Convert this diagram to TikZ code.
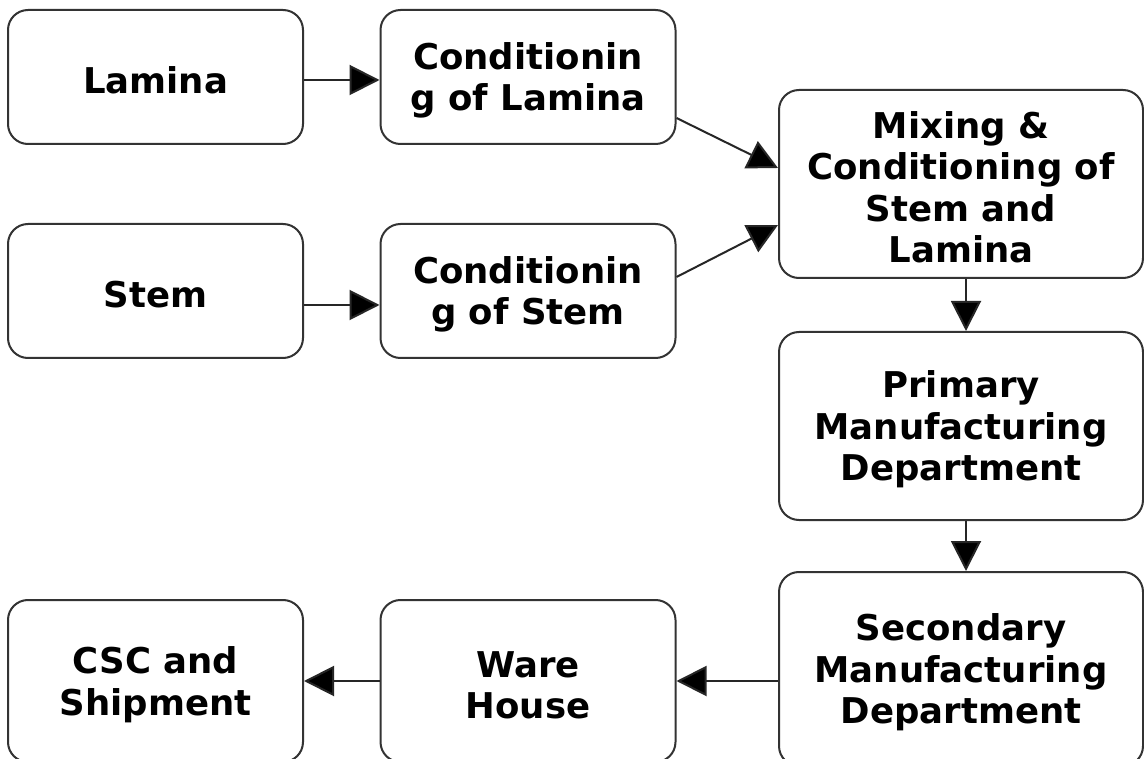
\documentclass[tikz,border=0pt]{standalone}
\usepackage{fontspec}
\setmainfont{DejaVu Sans}
\usetikzlibrary{arrows.meta}
\newcommand{\toprule}{\rule{0pt}{34pt}}
\tikzset{
  box/.style={draw=black!80, line width=2pt, rounded corners=20pt, fill=white,
    inner sep=0pt, align=center, font=\bfseries\fontsize{35.5}{41.5}\selectfont},
  smallbox/.style={box, minimum width=295pt, minimum height=134pt},
  lowbox/.style={box, minimum width=295pt, minimum height=162pt},
  bigbox/.style={box, minimum width=364pt, minimum height=188pt},
  flow/.style={line width=2pt, draw=black!85, -{Triangle[length=30pt,width=30pt,fill=black]}}
}
\begin{document}
\begin{tikzpicture}[x=1pt,y=-1pt]
\clip (0,0) rectangle (1144,759);
\fill[white] (0,0) rectangle (1144,759);
\node[smallbox] (lam) at (155.5,77) {\toprule Lamina};
\node[smallbox] (cl) at (528,77) {\toprule Conditionin\\g of Lamina};
\node[smallbox] (stem) at (155.5,291) {\toprule Stem};
\node[smallbox] (cs) at (528,291) {\toprule Conditionin\\g of Stem};
\node[bigbox] (mix) at (961,184) {\toprule Mixing \&\\Conditioning of\\Stem and\\Lamina};
\node[bigbox] (prim) at (961,426) {\toprule Primary\\Manufacturing\\Department};
\node[bigbox, minimum height=194pt] (sec) at (961,669) {\toprule Secondary\\Manufacturing\\Department};
\node[lowbox] (ware) at (528,681) {\toprule Ware\\House};
\node[lowbox] (csc) at (155.5,681) {\toprule CSC and\\Shipment};
\draw[flow] ([yshift=-3pt]lam.east) -- ([yshift=-3pt]cl.west);
\draw[flow] ([yshift=-14pt]stem.east) -- ([yshift=-14pt]cs.west);
\draw[flow] ([yshift=-41pt]cl.east) -- ([yshift=16pt]mix.west);
\draw[flow] ([yshift=14pt]cs.east) -- ([yshift=-41pt]mix.west);
\draw[flow] ([xshift=5pt]mix.south) -- ([xshift=5pt]prim.north);
\draw[flow] ([xshift=5pt]prim.south) -- ([xshift=5pt]sec.north);
\draw[flow] ([yshift=-12pt]sec.west) -- (ware.east);
\draw[flow] (ware.west) -- (csc.east);
\end{tikzpicture}
\end{document}
